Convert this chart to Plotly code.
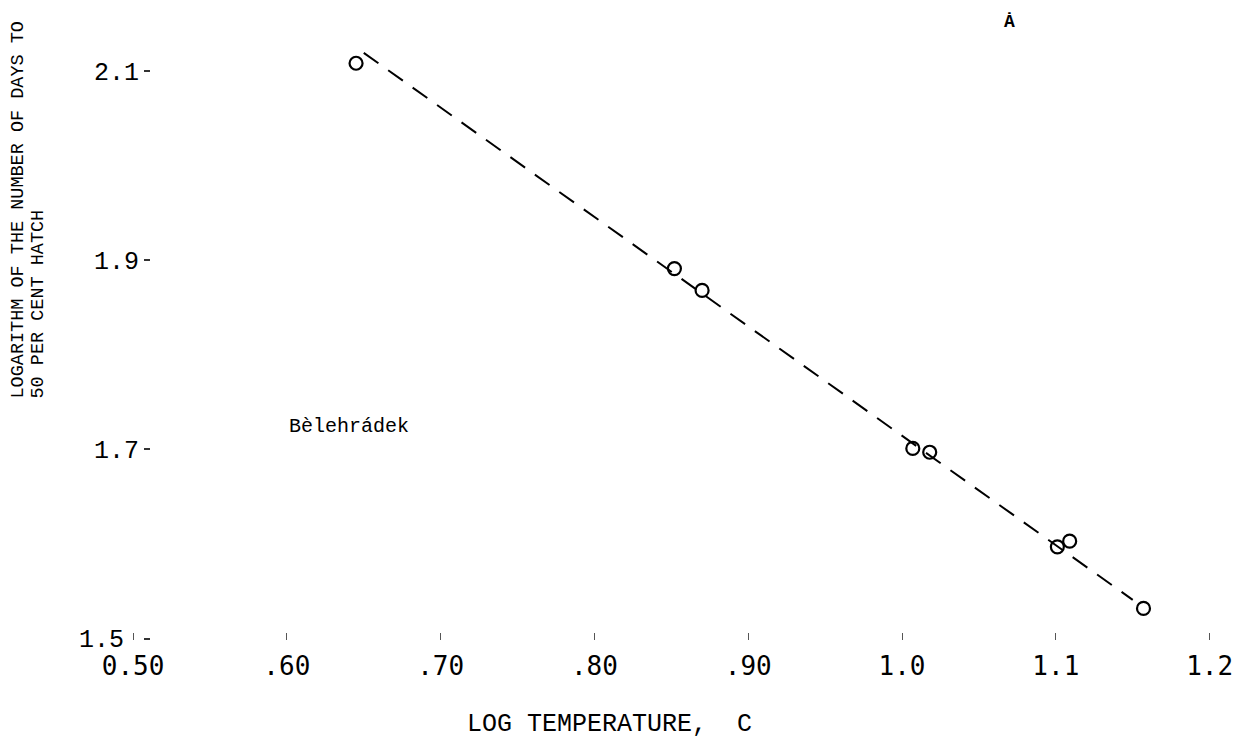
import plotly.graph_objects as go

# Data
log_temp = [0.645, 0.852, 0.870, 1.007, 1.018, 1.101, 1.109, 1.157]
log_days = [2.108, 1.891, 1.868, 1.701, 1.697, 1.597, 1.603, 1.532]

fit_x = [0.650, 1.150]
fit_y = [2.119, 1.541]

x_tickvals = [0.5, 0.6, 0.7, 0.8, 0.9, 1.0, 1.1, 1.2]
x_ticktext = ["0.50", ".60", ".70", ".80", ".90", "1.0", "1.1", "1.2"]
y_tickvals = [1.5, 1.7, 1.9, 2.1]
y_ticktext = ["1.5 ", "1.7", "1.9", "2.1"]

TYPE = "Liberation Mono"

fig = go.Figure()
fig.add_trace(go.Scatter(
    x=fit_x, y=fit_y, mode="lines",
    line=dict(color="black", width=2, dash="18px,12px"),
    showlegend=False, hoverinfo="skip"))
fig.add_trace(go.Scatter(
    x=log_temp, y=log_days, mode="markers",
    marker=dict(symbol="circle-open", size=13, color="black", line=dict(width=2.2)),
    showlegend=False))

fig.update_layout(
    width=1249, height=747,
    margin=dict(l=60, r=20, t=20, b=107),
    paper_bgcolor="white", plot_bgcolor="white",
    font=dict(family=TYPE, color="black"),
    xaxis=dict(
        range=[0.4525, 1.2126], tickvals=x_tickvals, ticktext=x_ticktext,
        ticks="inside", ticklen=7, tickwidth=1, tickcolor="#555",
        showgrid=False, zeroline=False, showline=False,
        ticklabelstandoff=8,
        tickfont=dict(family="DejaVu Sans Mono", size=26, color="black"),
    ),
    yaxis=dict(
        range=[1.4986, 2.1537], tickvals=y_tickvals, ticktext=y_ticktext,
        anchor="free", position=0.077,
        ticks="outside", ticklen=6, tickwidth=1.5, tickcolor="#333",
        showgrid=False, zeroline=False, showline=False,
        tickfont=dict(family=TYPE, size=25, color="black"),
    ),
    annotations=[
        dict(text="LOGARITHM OF THE NUMBER OF DAYS TO", textangle=-90,
             xref="paper", yref="paper", x=-0.0351, y=0.387, xanchor="center", yanchor="bottom",
             showarrow=False, font=dict(family=TYPE, size=18.5)),
        dict(text="50 PER CENT HATCH", textangle=-90,
             xref="paper", yref="paper", x=-0.018, y=0.387, xanchor="center", yanchor="bottom",
             showarrow=False, font=dict(family=TYPE, size=18.5)),
        dict(text="Bèlehrádek", xref="x", yref="y", x=0.60, y=1.724,
             xanchor="left", yanchor="middle", showarrow=False,
             font=dict(family=TYPE, size=20)),
        dict(text="<b>Ȧ</b>", xref="paper", yref="paper", x=0.812, y=0.9968,
             xanchor="center", yanchor="middle", showarrow=False,
             font=dict(family=TYPE, size=18)),
        dict(text="LOG TEMPERATURE,  C", xref="paper", yref="paper", x=0.3465, y=-0.137,
             xanchor="left", yanchor="middle", showarrow=False,
             font=dict(family=TYPE, size=25)),
    ],
)

fig.write_html("out.html")
